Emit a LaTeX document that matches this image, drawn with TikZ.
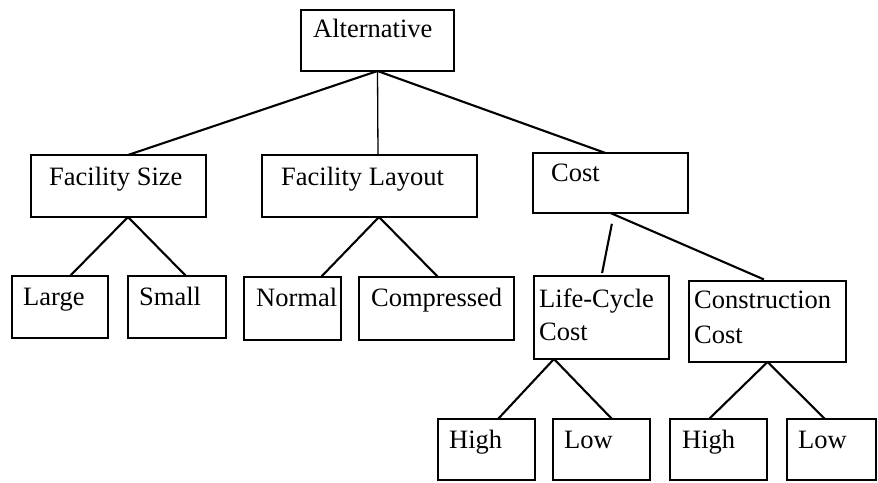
\documentclass[tikz,border=0pt]{standalone}
\usepackage{fontspec}
\setmainfont{Liberation Serif}
\begin{document}
\begin{tikzpicture}[x=1pt,y=-1pt,
  box/.style={draw, line width=1.6pt, rectangle, inner sep=0pt, outer sep=0pt, anchor=north west},
  lbl/.style={inner sep=0pt, anchor=base west, font=\fontsize{26.5}{33}\selectfont},
  edge/.style={line width=2.1pt}]
\useasboundingbox (0,0) rectangle (878,482);

% boxes: top-left corner, width, height
\node[box, minimum width=153pt, minimum height=61pt] (alt) at (301,10) {};
\node[box, minimum width=175pt, minimum height=62pt] (fs)  at (31,155) {};
\node[box, minimum width=215pt, minimum height=62pt] (fl)  at (262,155) {};
\node[box, minimum width=155pt, minimum height=60pt] (cost) at (533,153) {};
\node[box, minimum width=96pt,  minimum height=62pt] (large) at (12,276) {};
\node[box, minimum width=98pt,  minimum height=62pt] (small) at (128,276) {};
\node[box, minimum width=97pt,  minimum height=63pt] (normal) at (244,277) {};
\node[box, minimum width=155pt, minimum height=63pt] (comp) at (359,277) {};
\node[box, minimum width=135pt, minimum height=83pt] (lcc) at (534,276) {};
\node[box, minimum width=157pt, minimum height=81pt] (cc) at (689,281) {};
\node[box, minimum width=97pt,  minimum height=61pt] (h1) at (438,419) {};
\node[box, minimum width=97pt,  minimum height=61pt] (l1) at (553,419) {};
\node[box, minimum width=97pt,  minimum height=61pt] (h2) at (670,419) {};
\node[box, minimum width=89pt,  minimum height=61pt] (l2) at (787,419) {};

% labels
\node[lbl] (alt-t)  at (313,37)  {Alternative};
\node[lbl] (fs-t)   at (49,185)  {Facility Size};
\node[lbl] (fl-t)   at (281,185) {Facility Layout};
\node[lbl] (cost-t) at (551,181) {Cost};
\node[lbl] (large-t) at (23,305)  {Large};
\node[lbl] (small-t) at (139,305) {Small};
\node[lbl] (normal-t) at (256,306) {Normal};
\node[lbl] (comp-t) at (371,306) {Compressed};
\node[lbl] (lcc-t1) at (539,307) {Life-Cycle};
\node[lbl] (lcc-t2) at (539,340) {Cost};
\node[lbl] (cc-t1)  at (694,308) {Construction};
\node[lbl] (cc-t2)  at (694,343) {Cost};
\node[lbl] (h1-t) at (449,448) {High};
\node[lbl] (l1-t) at (564,448) {Low};
\node[lbl] (h2-t) at (682,448) {High};
\node[lbl] (l2-t) at (798,448) {Low};

% connectors
\draw[edge] (alt.south) -- ([xshift=9.5pt]fs.north);
\draw[edge, line width=1.3pt] (alt.south) -- ([xshift=8.5pt]fl.north);
\draw[edge] (alt.south) -- ([xshift=-5pt]cost.north);

\draw[edge] ([xshift=9.5pt]fs.south) -- ([xshift=10pt]large.north);
\draw[edge] ([xshift=9.5pt]fs.south) -- ([xshift=9pt]small.north);
\draw[edge] ([xshift=9.5pt]fl.south) -- ([xshift=28.5pt]normal.north);
\draw[edge] ([xshift=9.5pt]fl.south) -- ([xshift=1.5pt]comp.north);

\draw[edge, shorten <=11pt, shorten >=3pt] ([xshift=3.5pt]cost.south) -- (lcc.north);
\draw[edge, shorten >=4pt] (cost.south) -- (cc.north);

\draw[edge] ([xshift=-47.5pt]lcc.south) -- ([xshift=11.5pt]h1.north);
\draw[edge] ([xshift=-47.5pt]lcc.south) -- ([xshift=10.5pt]l1.north);
\draw[edge] (cc.south) -- ([xshift=-9.5pt]h2.north);
\draw[edge] (cc.south) -- ([xshift=-6.5pt]l2.north);
\end{tikzpicture}
\end{document}
